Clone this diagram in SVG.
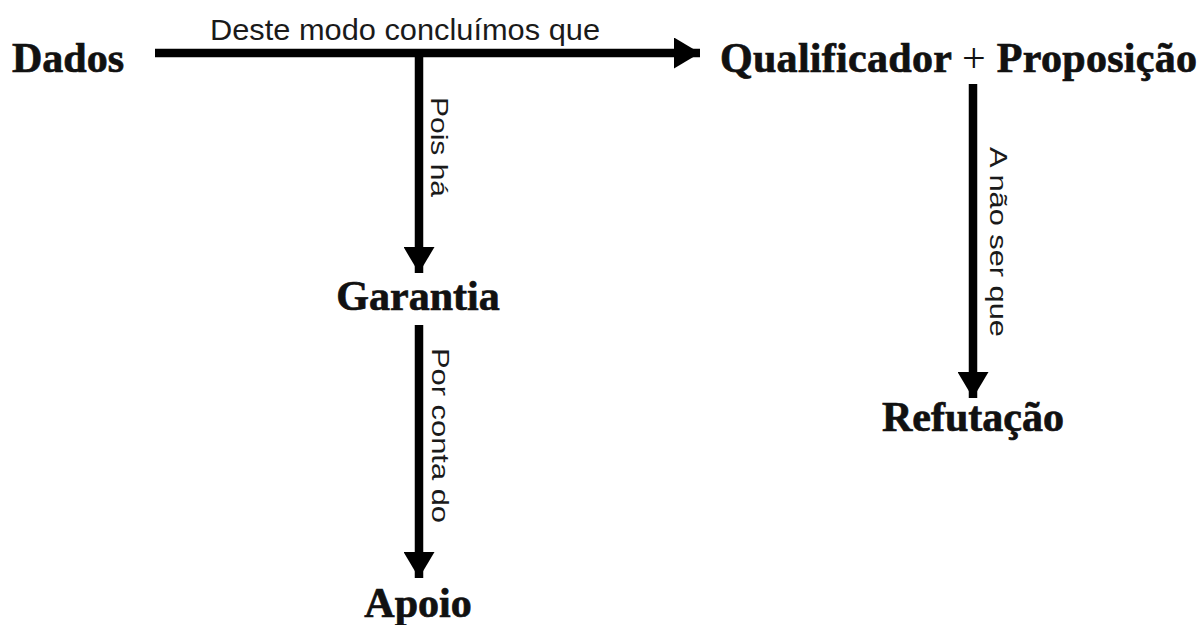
<svg xmlns="http://www.w3.org/2000/svg" width="1203" height="625" viewBox="0 0 1203 625">
  <style>
    .node { font-family: "Liberation Serif", "DejaVu Serif", serif; font-weight: bold; font-size: 42px; fill: #111; stroke: #111; stroke-width: 0.7; }
    .plus { font-weight: normal; stroke: none; }
    .lbl { font-family: "Liberation Sans", Arial, sans-serif; fill: #1a1a1a; }
    .conn { stroke: #000; stroke-width: 8.5; fill: none; stroke-linecap: butt; }
  </style>
  <defs>
    <marker id="head" markerUnits="userSpaceOnUse" markerWidth="26" markerHeight="31" refX="26" refY="15.5" orient="auto">
      <path d="M0,0 L26,15.5 L0,31 Z" fill="#000"/>
    </marker>
  </defs>
  <rect width="1203" height="625" fill="#fff"/>

  <g id="connectors">
    <path class="conn" d="M155,53 H700" marker-end="url(#head)"/>
    <path class="conn" d="M419,57 V273" marker-end="url(#head)"/>
    <path class="conn" d="M419,325 V578" marker-end="url(#head)"/>
    <path class="conn" d="M973,84 V398" marker-end="url(#head)"/>
    <text class="lbl" x="210" y="40" font-size="30" textLength="390" lengthAdjust="spacingAndGlyphs">Deste modo concluímos que</text>
    <text class="lbl" transform="translate(431,97) rotate(90)" x="0" y="0" font-size="24" textLength="100" lengthAdjust="spacingAndGlyphs">Pois há</text>
    <text class="lbl" transform="translate(432,348) rotate(90)" x="0" y="0" font-size="24" textLength="175" lengthAdjust="spacingAndGlyphs">Por conta do</text>
    <text class="lbl" transform="translate(990,147) rotate(90)" x="0" y="0" font-size="24" textLength="190" lengthAdjust="spacingAndGlyphs">A não ser que</text>
  </g>

  <g id="node-dados">
    <text class="node" x="12" y="72">Dados</text>
  </g>
  <g id="node-qualificador">
    <text class="node" x="720" y="72" textLength="477">Qualificador <tspan class="plus">+</tspan> Proposição</text>
  </g>
  <g id="node-garantia">
    <text class="node" x="418" y="310" text-anchor="middle">Garantia</text>
  </g>
  <g id="node-apoio">
    <text class="node" x="418" y="617" text-anchor="middle">Apoio</text>
  </g>
  <g id="node-refutacao">
    <text class="node" x="973" y="431" text-anchor="middle">Refutação</text>
  </g>
</svg>
